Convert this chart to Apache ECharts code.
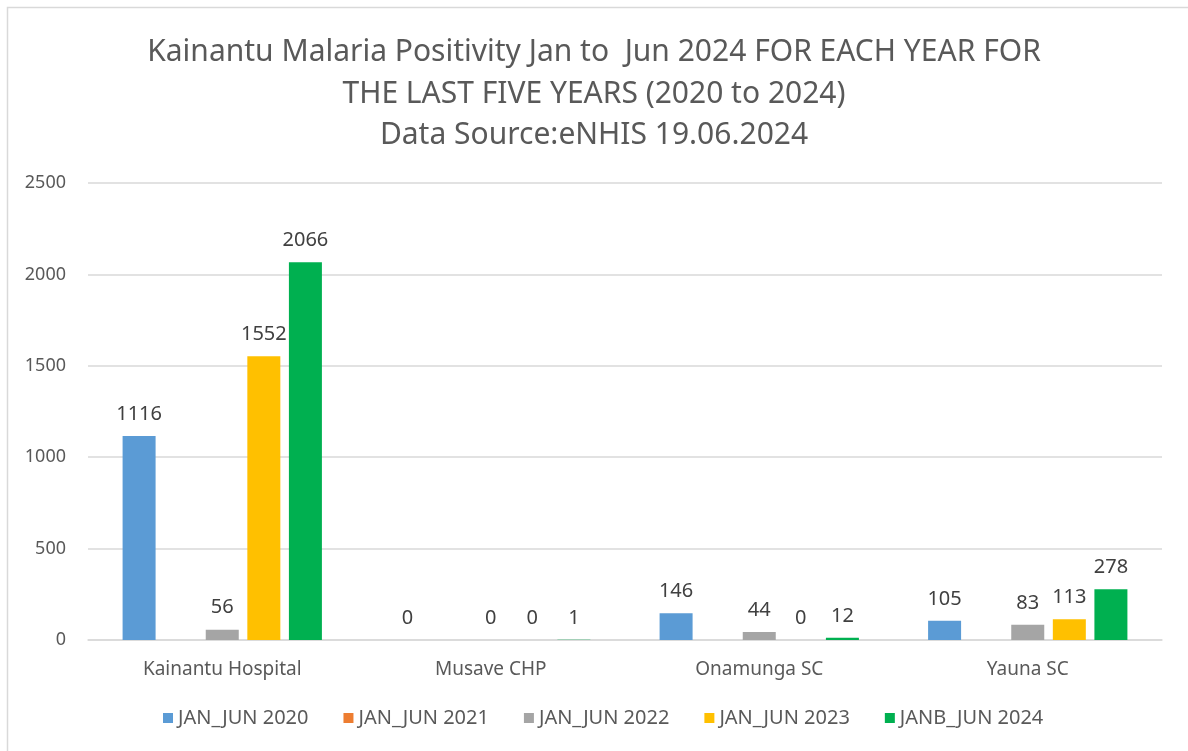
<!DOCTYPE html>
<html>
<head>
<meta charset="utf-8">
<script src="https://cdn.jsdelivr.net/npm/echarts@6/dist/echarts.min.js"></script>
<style>html,body{margin:0;padding:0;background:#fff;}#c{width:1188px;height:751px;}</style>
</head>
<body>
<div id="c"></div>
<script>
const categories = ['Kainantu Hospital', 'Musave CHP', 'Onamunga SC', 'Yauna SC'];
const seriesNames = ['JAN_JUN 2020', 'JAN_JUN 2021', 'JAN_JUN 2022', 'JAN_JUN 2023', 'JANB_JUN 2024'];
const jan2020 = [1116, 0, 146, 105];
const jan2021 = [null, null, null, null];
const jan2022 = [56, 0, 44, 83];
const jan2023 = [1552, 0, 0, 113];
const jan2024 = [2066, 1, 12, 278];
const yTicks = [0, 500, 1000, 1500, 2000, 2500];
const colors = ['#5b9bd5', '#ed7d31', '#a5a5a5', '#ffc000', '#00b050'];
const titleLines = ['Kainantu Malaria Positivity Jan to  Jun 2024 FOR EACH YEAR FOR', 'THE LAST FIVE YEARS (2020 to 2024)', 'Data Source:eNHIS 19.06.2024'];

const FONT = 'Noto Sans, sans-serif';
const allData = [jan2020, jan2021, jan2022, jan2023, jan2024];
const chart = echarts.init(document.getElementById('c'));
chart.setOption({
  animation: false,
  color: colors,
  graphic: [{
    type: 'rect', shape: {x: 7.5, y: 7.5, width: 1200, height: 800},
    style: {fill: 'none', stroke: '#d9d9d9', lineWidth: 1.5}, silent: true
  }],
  title: {
    text: titleLines.join('\n'),
    left: 'center', top: 27,
    textStyle: {fontFamily: FONT, fontSize: 30, fontWeight: 'normal', color: '#595959', lineHeight: 41.5}
  },
  legend: {
    bottom: 18, left: 158, itemWidth: 10, itemHeight: 10, itemGap: 35,
    icon: 'rect',
    textStyle: {fontFamily: FONT, fontSize: 20, color: '#595959'},
    data: seriesNames
  },
  grid: {left: 88, right: 26, top: 183, bottom: 111},
  xAxis: {
    type: 'category', data: categories,
    axisLine: {lineStyle: {color: '#d9d9d9', width: 1.5}},
    axisTick: {show: false},
    axisLabel: {fontFamily: FONT, fontSize: 19, color: '#595959', margin: 20}
  },
  yAxis: {
    type: 'value', min: yTicks[0], max: yTicks[yTicks.length - 1], interval: 500,
    axisLine: {show: false}, axisTick: {show: false},
    splitLine: {lineStyle: {color: '#d9d9d9', width: 1.5}},
    axisLabel: {fontFamily: FONT, fontSize: 18, color: '#595959', margin: 22, formatter: v => String(v)}
  },
  series: seriesNames.map((n, i) => ({
    name: n, type: 'bar', data: allData[i],
    barWidth: 33, barGap: '26%',
    itemStyle: {color: colors[i]},
    label: {show: true, position: 'top', distance: 12, fontFamily: FONT, fontSize: 20, color: '#404040'}
  }))
});
</script>
</body>
</html>
